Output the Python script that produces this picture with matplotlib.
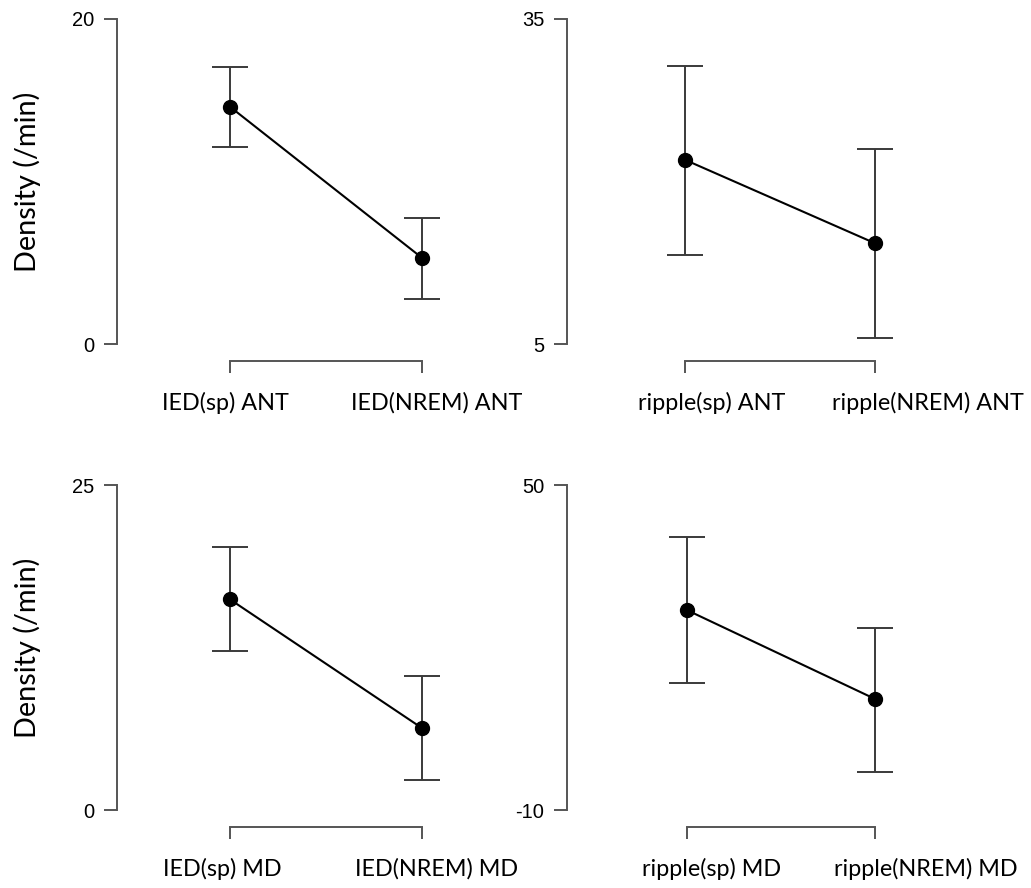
import matplotlib.pyplot as plt
import numpy as np

W, H = 1031, 888

# categories per panel
labels_tl = ["IED(sp) ANT", "IED(NREM) ANT"]
labels_tr = ["ripple(sp) ANT", "ripple(NREM) ANT"]
labels_bl = ["IED(sp) MD", "IED(NREM) MD"]
labels_br = ["ripple(sp) MD", "ripple(NREM) MD"]

# means and error bar ends
mean_tl = [14.6, 5.3]
low_tl = [12.1, 2.8]
high_tl = [17.05, 7.75]

mean_tr = [22.0, 14.3]
low_tr = [13.2, 5.55]
high_tr = [30.7, 23.0]

mean_bl = [16.2, 6.3]
low_bl = [12.2, 2.3]
high_bl = [20.2, 10.3]

mean_br = [26.9, 10.5]
low_br = [13.4, -3.0]
high_br = [40.4, 23.6]

ylims = {"tl": (0, 20), "tr": (5, 35), "bl": (0, 25), "br": (-10, 50)}

fig = plt.figure(figsize=(W / 100, H / 100), dpi=100)

NUM_FONT = "Liberation Sans"
LAB_FONT = "Lato"
SPINE_C = "#555555"


def panel(left_px, top_px, bottom_px, p1_px, p2_px, labels, mean, low, high, ylim,
          ylabel, label_shift):
    sep = p2_px - p1_px
    xmin = 1 - (p1_px - left_px) / sep
    right_px = p2_px + 115
    xmax = 2 + (right_px - p2_px) / sep
    ax = fig.add_axes([left_px / W, 1 - bottom_px / H,
                       (right_px - left_px) / W, (bottom_px - top_px) / H])
    # spine placement first: moving a spine resets the ticks
    for s in ("top", "right"):
        ax.spines[s].set_visible(False)
    ax.spines["bottom"].set_position(("outward", 12.2))
    x = np.array([1, 2])
    mean = np.array(mean)
    yerr = [mean - np.array(low), np.array(high) - mean]
    ax.errorbar(x, mean, yerr=yerr, fmt="none", ecolor="#3a3a3a",
                elinewidth=1.4, capsize=13.3, capthick=1.4, zorder=2)
    ax.plot(x, mean, color="black", lw=1.5, marker="o", ms=10, zorder=3)
    ax.set_xlim(xmin, xmax)
    ax.set_ylim(*ylim)
    ax.set_yticks(list(ylim))
    ax.set_yticklabels([str(v) for v in ylim], fontsize=14.5, family=NUM_FONT)
    ax.set_xticks([1, 2])
    ax.set_xticklabels([])
    # category labels sit a little right of their ticks, as in the original
    for xi, lab, dx in zip(x, labels, label_shift):
        ax.annotate(lab, xy=(xi, 0), xycoords=("data", "axes fraction"),
                    xytext=(dx, -59), textcoords="offset pixels",
                    ha="center", va="center", fontsize=16.8, family=LAB_FONT,
                    annotation_clip=False)
    ax.spines["bottom"].set_bounds(1, 2)
    for s in ("left", "bottom"):
        ax.spines[s].set_color(SPINE_C)
        ax.spines[s].set_linewidth(1.4)
    ax.tick_params(axis="y", length=9.4, width=1.4, color=SPINE_C, pad=7)
    ax.tick_params(axis="x", length=8.5, width=1.4, color=SPINE_C)
    if ylabel:
        ax.set_ylabel("Density (/min)", fontsize=20.8, family=LAB_FONT, labelpad=22)
    return ax


panel(117, 19, 344, 230, 422, labels_tl, mean_tl, low_tl, high_tl, ylims["tl"], True, (-5, 15))
panel(567, 19, 344, 685, 875, labels_tr, mean_tr, low_tr, high_tr, ylims["tr"], False, (27, 53))
panel(117, 485, 810, 230, 422, labels_bl, mean_bl, low_bl, high_bl, ylims["bl"], True, (-8, 15))
panel(567, 485, 810, 687, 875, labels_br, mean_br, low_br, high_br, ylims["br"], False, (25, 51))

fig.savefig("out.png", dpi=100)
